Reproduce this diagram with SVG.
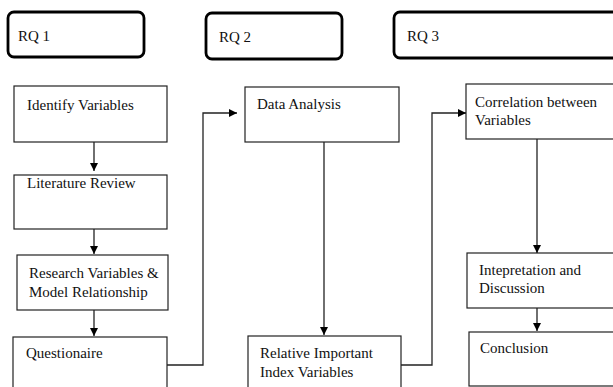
<svg xmlns="http://www.w3.org/2000/svg" width="613" height="387" viewBox="0 0 613 387">
<defs>
<marker id="ah" viewBox="0 0 10 10" refX="10" refY="5" markerWidth="8" markerHeight="8" markerUnits="userSpaceOnUse" orient="auto">
<path d="M0,0 L10,5 L0,10 z" fill="#000"/>
</marker>
<style>
.rq{fill:#fff;stroke:#000;stroke-width:2.8}
.bx{fill:#fff;stroke:#222;stroke-width:1.2}
.t{font-family:"Liberation Serif","Times New Roman",serif;font-size:15px;fill:#111}
.c{fill:none;stroke:#222;stroke-width:1.3}
</style>
</defs>
<rect width="613" height="387" fill="#fff"/>
<g id="rq1"><rect class="rq" x="8" y="12" width="136" height="45" rx="6"/><text class="t" x="18" y="41" font-size="14">RQ 1</text></g>
<g id="rq2"><rect class="rq" x="206" y="13" width="136" height="46" rx="6"/><text class="t" x="219" y="42" font-size="14">RQ 2</text></g>
<g id="rq3"><rect class="rq" x="394" y="12" width="225" height="46" rx="6"/><text class="t" x="407" y="41" font-size="14">RQ 3</text></g>
<g id="identify"><rect class="bx" x="14" y="86" width="153" height="56"/><text class="t" x="27" y="110">Identify Variables</text></g>
<g id="literature"><rect class="bx" x="14" y="175" width="153" height="54"/><text class="t" x="27" y="188">Literature Review</text></g>
<g id="research"><rect class="bx" x="17" y="255" width="151" height="55"/><text class="t" x="29" y="278">Research Variables &amp;</text><text class="t" x="29" y="297">Model Relationship</text></g>
<g id="questionaire"><rect class="bx" x="13" y="337" width="154" height="60"/><text class="t" x="26" y="358">Questionaire</text></g>
<g id="data"><rect class="bx" x="245" y="87" width="154" height="55"/><text class="t" x="257" y="109">Data Analysis</text></g>
<g id="relative"><rect class="bx" x="248" y="336" width="153" height="60"/><text class="t" x="260" y="358">Relative Important</text><text class="t" x="260" y="377">Index Variables</text></g>
<g id="correlation"><rect class="bx" x="466" y="84" width="160" height="55"/><text class="t" x="475" y="107">Correlation between</text><text class="t" x="475" y="125">Variables</text></g>
<g id="interpretation"><rect class="bx" x="467" y="253" width="160" height="55"/><text class="t" x="479" y="275">Intepretation and</text><text class="t" x="479" y="293">Discussion</text></g>
<g id="conclusion"><rect class="bx" x="469" y="332" width="160" height="54"/><text class="t" x="480" y="353">Conclusion</text></g>
<g id="connectors">
<path class="c" d="M94,142 V171" marker-end="url(#ah)"/>
<path class="c" d="M94,229 V254" marker-end="url(#ah)"/>
<path class="c" d="M94,310 V336" marker-end="url(#ah)"/>
<path class="c" d="M167,365 H203 V113 H237" marker-end="url(#ah)"/>
<path class="c" d="M324,142 V335" marker-end="url(#ah)"/>
<path class="c" d="M401,365 H432 V113 H466" marker-end="url(#ah)"/>
<path class="c" d="M537,139 V253" marker-end="url(#ah)"/>
<path class="c" d="M537,308 V331" marker-end="url(#ah)"/>
</g>
</svg>
